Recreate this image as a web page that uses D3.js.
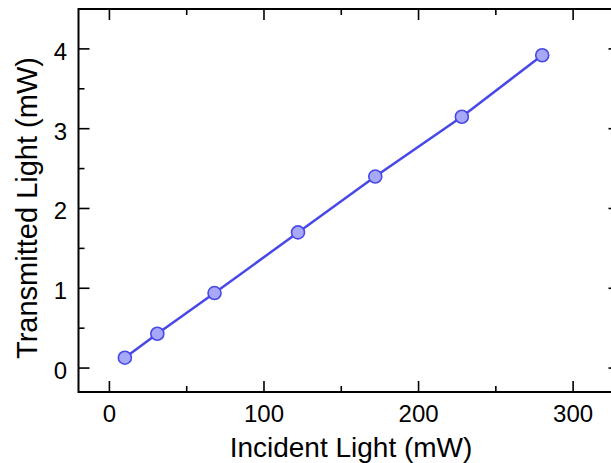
<!DOCTYPE html>
<html>
<head>
<meta charset="utf-8">
<script src="https://cdn.jsdelivr.net/npm/d3@7"></script>
<style>
  html, body { margin: 0; padding: 0; background: #fff; }
  svg { display: block; }
  text { font-family: "Liberation Sans", Arial, Helvetica, sans-serif; fill: #000; }
</style>
</head>
<body>
<svg id="chart" width="611" height="463"></svg>
<script>
// Incident vs transmitted power measurements
const incident = [10, 31, 68, 122, 172, 228, 280];
const transmitted = [0.13, 0.43, 0.94, 1.70, 2.40, 3.15, 3.92];

const xMajorTicks = [0, 100, 200, 300];
const xMinorTicks = [50, 150, 250];
const yMajorTicks = [0, 1, 2, 3, 4];
const yMinorTicks = [0.5, 1.5, 2.5, 3.5];

const xTitle = "Incident Light (mW)";
const yTitle = "Transmitted Light (mW)";

const svg = d3.select("#chart");
const plotLeft = 78.5, plotRight = 619.5, plotTop = 9, plotBottom = 392;

const x = d3.scaleLinear().domain([-20, 330]).range([plotLeft, plotRight]);
const y = d3.scaleLinear().domain([-0.3, 4.5]).range([plotBottom, plotTop]);

const majorLen = 11, minorLen = 6;
const g = svg.append("g");

// Frame
g.append("rect")
  .attr("x", plotLeft).attr("y", plotTop)
  .attr("width", plotRight - plotLeft).attr("height", plotBottom - plotTop)
  .attr("fill", "none").attr("stroke", "#000").attr("stroke-width", 2);

// Inward ticks on all four sides
function xTicks(vals, len) {
  vals.forEach(v => {
    g.append("line").attr("x1", x(v)).attr("x2", x(v))
      .attr("y1", plotBottom).attr("y2", plotBottom - len)
      .attr("stroke", "#000").attr("stroke-width", 1.6);
    g.append("line").attr("x1", x(v)).attr("x2", x(v))
      .attr("y1", plotTop).attr("y2", plotTop + len)
      .attr("stroke", "#000").attr("stroke-width", 1.6);
  });
}
function yTicks(vals, len) {
  vals.forEach(v => {
    g.append("line").attr("y1", y(v)).attr("y2", y(v))
      .attr("x1", plotLeft).attr("x2", plotLeft + len)
      .attr("stroke", "#000").attr("stroke-width", 1.6);
    g.append("line").attr("y1", y(v)).attr("y2", y(v))
      .attr("x1", plotRight).attr("x2", plotRight - len)
      .attr("stroke", "#000").attr("stroke-width", 1.6);
  });
}
xTicks(xMajorTicks, majorLen);
xTicks(xMinorTicks, minorLen);
yTicks(yMajorTicks, majorLen);
yTicks(yMinorTicks, minorLen);

// Tick labels
g.selectAll(".xl").data(xMajorTicks).enter().append("text")
  .attr("x", d => x(d)).attr("y", 421.5)
  .attr("text-anchor", "middle").attr("font-size", 24)
  .text(d => d);
g.selectAll(".yl").data(yMajorTicks).enter().append("text")
  .attr("x", 67).attr("y", d => y(d) + 11)
  .attr("text-anchor", "end").attr("font-size", 24)
  .text(d => d);

// Axis titles
g.append("text")
  .attr("x", (plotLeft + plotRight) / 2 + 2).attr("y", 456.5)
  .attr("text-anchor", "middle").attr("font-size", 28)
  .text(xTitle);
g.append("text")
  .attr("transform", `translate(37, 208) rotate(-90)`)
  .attr("text-anchor", "middle").attr("font-size", 29)
  .text(yTitle);

// Data line and markers
const pts = incident.map((v, i) => [v, transmitted[i]]);
g.append("path")
  .attr("d", d3.line().x(d => x(d[0])).y(d => y(d[1]))(pts))
  .attr("fill", "none").attr("stroke", "#4848e8").attr("stroke-width", 2.5);
g.selectAll(".pt").data(pts).enter().append("circle")
  .attr("cx", d => x(d[0])).attr("cy", d => y(d[1])).attr("r", 6.5)
  .attr("fill", "#a8a8f8").attr("stroke", "#4848e8").attr("stroke-width", 1.6);
</script>
</body>
</html>
